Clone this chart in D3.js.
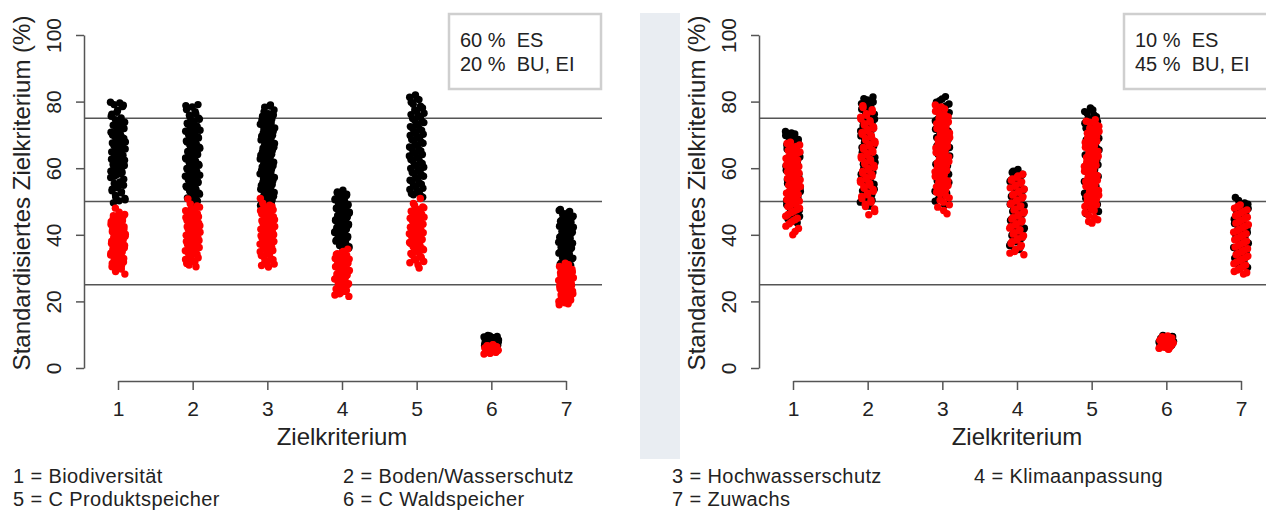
<!DOCTYPE html>
<html>
<head>
<meta charset="utf-8">
<script src="https://cdn.jsdelivr.net/npm/d3@7"></script>
<style>
    body { margin: 0; background: white; }
    text { font-family: "Liberation Sans", Arial, sans-serif; fill: #222; }
</style>
</head>
<body>
<script>
// Data
var criteria = [1, 2, 3, 4, 5, 6, 7];
var yTicks = [0, 20, 40, 60, 80, 100];
var refLines = [25, 50, 75];
var legendLeft = ["60 %  ES", "20 %  BU, EI"];
var legendRight = ["10 %  ES", "45 %  BU, EI"];
var criteriaNames = [
    "1 = Biodiversität", "2 = Boden/Wasserschutz", "3 = Hochwasserschutz", "4 = Klimaanpassung",
    "5 = C Produktspeicher", "6 = C Waldspeicher", "7 = Zuwachs"
];

// left panel, black (criterion 1..7)
var leftBlack = [
    [79.8, 79.6, 79.1, 78.9, 77.4, 76.2, 75.1, 74.6, 73.8, 73.3, 72.9, 72.4, 71.6, 70.8, 70.3, 69.7, 68.9, 68.2, 67.6, 67.1, 66.4, 65.8, 65.2, 64.6, 63.9, 63.3, 62.7, 62.0, 61.4, 60.8, 60.1, 59.4, 58.7, 58.0, 57.2, 55.9, 55.4, 54.9, 54.1, 53.2, 52.6, 51.8, 50.9, 50.2, 49.6,
     78.5, 76.8, 75.6, 74.2, 73.0, 71.9, 71.2, 70.0, 69.3, 68.6, 67.9, 67.3, 66.8, 66.1, 65.5, 64.9, 64.2, 63.6, 62.4, 61.7, 61.1, 60.4, 59.7, 59.1, 58.3, 57.6, 56.7, 54.5, 53.7, 52.9, 51.3, 50.5],
    [79.1, 78.4, 77.6, 76.3, 75.4, 74.7, 73.9, 73.2, 72.5, 71.8, 71.1, 70.4, 69.8, 69.1, 68.5, 67.9, 67.2, 66.6, 66.0, 65.3, 64.7, 64.1, 63.4, 62.8, 62.1, 61.5, 60.9, 60.2, 59.6, 58.9, 58.3, 57.6, 57.0, 56.3, 55.7, 55.0, 54.3, 53.6, 52.9, 52.2, 51.5, 50.8, 50.1, 49.4,
     78.8, 77.0, 75.9, 75.0, 74.3, 73.5, 72.8, 72.1, 71.4, 70.7, 70.1, 69.4, 68.8, 68.2, 67.5, 66.9, 66.3, 65.6, 65.0, 64.4, 63.7, 63.1, 62.4, 61.8, 61.2, 60.5, 59.9, 59.2, 58.6, 57.9, 57.3, 56.6, 56.0, 55.3, 54.6, 53.9, 53.2, 52.5, 51.8, 51.1, 50.4, 49.8],
    [79.0, 78.3, 77.5, 76.4, 75.6, 74.8, 74.0, 73.2, 72.5, 71.8, 71.0, 70.3, 69.6, 68.9, 68.1, 67.4, 66.7, 66.0, 65.3, 64.6, 63.9, 63.2, 62.5, 61.8, 61.1, 60.4, 59.7, 59.0, 58.3, 57.6, 56.9, 56.2, 55.5, 54.8, 54.1, 53.4, 52.7, 52.0, 51.2, 50.4, 49.6, 48.8,
     78.7, 77.0, 76.0, 75.2, 74.4, 73.6, 72.8, 72.1, 71.4, 70.6, 69.9, 69.2, 68.5, 67.7, 67.0, 66.3, 65.6, 64.9, 64.2, 63.5, 62.8, 62.1, 61.4, 60.7, 60.0, 59.3, 58.6, 57.9, 57.2, 56.5, 55.8, 55.1, 54.4, 53.7, 53.0, 52.3, 51.6, 50.8, 50.0, 49.2],
    [53.4, 52.6, 51.8, 51.1, 50.5, 49.9, 49.4, 48.9, 48.4, 47.9, 47.4, 47.0, 46.5, 46.1, 45.6, 45.2, 44.7, 44.3, 43.8, 43.4, 42.9, 42.5, 42.0, 41.6, 41.1, 40.7, 40.2, 39.7, 39.2, 38.7, 38.1, 37.5, 36.8, 36.0, 35.3,
     52.9, 52.2, 51.5, 50.8, 50.2, 49.6, 49.1, 48.6, 48.1, 47.7, 47.2, 46.8, 46.3, 45.9, 45.4, 45.0, 44.5, 44.1, 43.6, 43.2, 42.7, 42.3, 41.8, 41.4, 40.9, 40.5, 40.0, 39.5, 38.9, 38.4, 37.8, 37.2, 36.4, 35.7],
    [82.0, 81.3, 80.6, 79.2, 78.1, 77.0, 76.1, 75.3, 74.5, 73.7, 72.9, 72.1, 71.3, 70.6, 69.8, 69.0, 68.3, 67.5, 66.8, 66.0, 65.2, 64.5, 63.7, 63.0, 62.2, 61.4, 60.7, 59.9, 59.1, 58.4, 57.6, 56.8, 56.0, 55.2, 54.4, 53.6, 52.8, 52.0, 51.3,
     80.9, 79.8, 78.6, 77.5, 76.5, 75.7, 74.9, 74.1, 73.3, 72.5, 71.7, 70.9, 70.2, 69.4, 68.6, 67.9, 67.1, 66.4, 65.6, 64.8, 64.1, 63.3, 62.6, 61.8, 61.0, 60.3, 59.5, 58.7, 58.0, 57.2, 56.4, 55.6, 54.8, 54.0, 53.2, 52.4, 51.7],
    [9.8, 9.5, 9.2, 9.0, 8.8, 8.6, 8.4, 8.2, 8.0, 7.8, 7.6, 7.4, 7.2, 7.0, 6.8, 6.6, 6.4, 6.2,
     9.6, 9.3, 9.1, 8.9, 8.7, 8.5, 8.3, 8.1, 7.9, 7.7, 7.5, 7.3, 7.1, 6.9, 6.7, 6.5, 6.3],
    [47.6, 47.0, 46.3, 45.6, 45.0, 44.4, 43.8, 43.2, 42.6, 42.0, 41.4, 40.8, 40.2, 39.6, 39.0, 38.4, 37.8, 37.2, 36.6, 36.0, 35.4, 34.8, 34.2, 33.6, 33.0, 32.3, 31.6, 30.8, 30.1,
     47.3, 46.6, 46.0, 45.3, 44.7, 44.1, 43.5, 42.9, 42.3, 41.7, 41.1, 40.5, 39.9, 39.3, 38.7, 38.1, 37.5, 36.9, 36.3, 35.7, 35.1, 34.5, 33.9, 33.3, 32.7, 31.9, 31.2, 30.5]
];

// left panel, red
var leftRed = [
    [48.0, 46.1, 45.4, 44.8, 44.2, 43.7, 43.1, 42.6, 42.2, 41.7, 41.3, 40.9, 40.4, 40.0, 39.6, 39.1, 38.8, 38.3, 37.9, 37.4, 37.0, 36.6, 36.1, 35.7, 35.2, 34.8, 34.3, 33.9, 33.2, 32.6, 31.8, 31.1, 30.4, 29.7, 29.0, 28.2,
     46.8, 45.7, 45.1, 44.5, 43.9, 43.4, 42.9, 42.4, 41.9, 41.5, 41.1, 40.6, 40.2, 39.8, 39.4, 38.9, 38.5, 38.1, 37.6, 37.2, 36.8, 36.3, 35.9, 35.5, 35.0, 34.5, 34.0, 33.5, 32.9, 32.2, 31.4, 30.8, 29.4],
    [50.8, 48.7, 47.9, 47.2, 46.6, 46.0, 45.4, 44.9, 44.3, 43.8, 43.2, 42.7, 42.1, 41.6, 41.0, 40.5, 39.9, 39.4, 38.8, 38.3, 37.7, 37.1, 36.5, 35.9, 35.2, 34.6, 33.9, 33.1, 32.2, 31.4, 30.4,
     49.3, 48.3, 47.6, 46.9, 46.3, 45.7, 45.2, 44.6, 44.1, 43.5, 43.0, 42.4, 41.9, 41.3, 40.8, 40.2, 39.7, 39.1, 38.6, 38.0, 37.4, 36.8, 36.2, 35.6, 34.9, 34.2, 33.5, 32.6, 31.8, 30.9],
    [50.9, 48.9, 48.2, 47.5, 46.9, 46.3, 45.7, 45.1, 44.5, 43.9, 43.4, 42.8, 42.2, 41.7, 41.1, 40.6, 40.0, 39.4, 38.9, 38.3, 37.7, 37.2, 36.6, 36.0, 35.3, 34.6, 33.8, 32.9, 32.0, 31.2, 30.3,
     49.5, 48.5, 47.8, 47.2, 46.6, 46.0, 45.4, 44.8, 44.2, 43.6, 43.1, 42.5, 41.9, 41.4, 40.8, 40.3, 39.7, 39.1, 38.6, 38.0, 37.4, 36.9, 36.3, 35.6, 34.9, 34.2, 33.4, 32.5, 31.6, 30.8],
    [35.7, 34.6, 34.1, 33.6, 33.1, 32.7, 32.2, 31.8, 31.3, 30.9, 30.4, 30.0, 29.5, 29.1, 28.6, 28.2, 27.7, 27.2, 26.7, 26.2, 25.6, 25.0, 24.4, 23.7, 23.0, 22.3, 21.5,
     35.0, 34.3, 33.8, 33.3, 32.9, 32.4, 32.0, 31.5, 31.1, 30.6, 30.2, 29.7, 29.3, 28.8, 28.4, 27.9, 27.4, 26.9, 26.4, 25.9, 25.3, 24.7, 24.0, 23.3, 22.6, 21.9],
    [50.9, 48.8, 48.1, 47.4, 46.8, 46.2, 45.6, 45.0, 44.4, 43.8, 43.2, 42.6, 42.0, 41.5, 40.9, 40.3, 39.7, 39.2, 38.6, 38.0, 37.4, 36.8, 36.2, 35.5, 34.8, 34.0, 33.2, 32.4, 31.6, 30.0,
     49.4, 48.4, 47.7, 47.1, 46.5, 45.9, 45.3, 44.7, 44.1, 43.5, 42.9, 42.3, 41.7, 41.2, 40.6, 40.0, 39.4, 38.9, 38.3, 37.7, 37.1, 36.5, 35.8, 35.1, 34.4, 33.6, 32.8, 32.0, 31.0],
    [7.0, 6.7, 6.4, 6.2, 6.0, 5.8, 5.6, 5.4, 5.2, 5.0, 4.8, 4.5, 4.2,
     6.9, 6.6, 6.3, 6.1, 5.9, 5.7, 5.5, 5.3, 5.1, 4.9, 4.7, 4.4],
    [31.5, 30.5, 29.9, 29.3, 28.8, 28.3, 27.8, 27.3, 26.8, 26.3, 25.8, 25.3, 24.8, 24.3, 23.8, 23.3, 22.8, 22.3, 21.7, 21.1, 20.4, 19.6, 19.0,
     31.0, 30.2, 29.6, 29.1, 28.6, 28.1, 27.6, 27.1, 26.6, 26.1, 25.6, 25.1, 24.6, 24.1, 23.6, 23.1, 22.6, 22.0, 21.4, 20.8, 20.0, 19.3]
];

// right panel, black
var rightBlack = [
    [71.0, 70.3, 69.4, 68.6, 67.8, 67.0, 66.2, 65.4, 64.6, 63.8, 63.0, 62.2, 61.4, 60.6, 59.8, 59.0, 58.2, 57.4, 56.6, 55.8, 55.0, 54.2, 53.4, 52.6, 51.8, 51.0, 50.2, 49.4, 48.6, 47.4, 46.2, 44.8, 43.6,
     70.6, 69.8, 69.0, 68.2, 67.4, 66.6, 65.8, 65.0, 64.2, 63.4, 62.6, 61.8, 61.0, 60.2, 59.4, 58.6, 57.8, 57.0, 56.2, 55.4, 54.6, 53.8, 53.0, 52.2, 51.4, 50.6, 49.8, 49.0, 48.0, 46.8, 45.5, 44.2],
    [81.4, 80.5, 79.4, 78.3, 77.2, 76.2, 75.2, 74.2, 73.2, 72.2, 71.2, 70.2, 69.2, 68.2, 67.2, 66.2, 65.2, 64.2, 63.2, 62.2, 61.2, 60.2, 59.2, 58.2, 57.2, 56.2, 55.2, 54.2, 53.2, 52.1, 51.0, 49.8, 48.6,
     80.9, 79.9, 78.8, 77.7, 76.7, 75.7, 74.7, 73.7, 72.7, 71.7, 70.7, 69.7, 68.7, 67.7, 66.7, 65.7, 64.7, 63.7, 62.7, 61.7, 60.7, 59.7, 58.7, 57.7, 56.7, 55.7, 54.7, 53.7, 52.6, 51.5, 50.4, 49.2],
    [81.5, 80.3, 79.3, 78.2, 77.2, 76.2, 75.2, 74.2, 73.2, 72.2, 71.2, 70.2, 69.2, 68.2, 67.2, 66.2, 65.2, 64.2, 63.2, 62.2, 61.2, 60.2, 59.2, 58.2, 57.2, 56.2, 55.2, 54.2, 53.1, 52.0, 50.8, 49.4,
     80.8, 79.8, 78.7, 77.7, 76.7, 75.7, 74.7, 73.7, 72.7, 71.7, 70.7, 69.7, 68.7, 67.7, 66.7, 65.7, 64.7, 63.7, 62.7, 61.7, 60.7, 59.7, 58.7, 57.7, 56.7, 55.7, 54.7, 53.6, 52.5, 51.4, 50.1, 49.0],
    [59.6, 58.7, 57.8, 56.9, 56.0, 55.1, 54.2, 53.3, 52.4, 51.5, 50.6, 49.7, 48.8, 47.9, 47.0, 46.1, 45.2, 44.3, 43.4, 42.5, 41.6, 40.7, 39.8, 38.9, 37.9, 36.8, 35.6,
     59.1, 58.2, 57.3, 56.4, 55.5, 54.6, 53.7, 52.8, 51.9, 51.0, 50.1, 49.2, 48.3, 47.4, 46.5, 45.6, 44.7, 43.8, 42.9, 42.0, 41.1, 40.2, 39.3, 38.4, 37.3, 36.2, 35.3],
    [78.1, 77.0, 76.0, 75.0, 74.0, 73.0, 72.0, 71.0, 70.0, 69.0, 68.0, 67.0, 66.0, 65.0, 64.0, 63.0, 62.0, 61.0, 60.0, 59.0, 58.0, 57.0, 56.0, 55.0, 54.0, 53.0, 52.0, 51.0, 49.8, 48.4, 47.0,
     77.5, 76.5, 75.5, 74.5, 73.5, 72.5, 71.5, 70.5, 69.5, 68.5, 67.5, 66.5, 65.5, 64.5, 63.5, 62.5, 61.5, 60.5, 59.5, 58.5, 57.5, 56.5, 55.5, 54.5, 53.5, 52.5, 51.5, 50.4, 49.1, 47.7, 46.4],
    [9.8, 9.5, 9.2, 8.9, 8.6, 8.3, 8.0, 7.7, 7.4, 7.1, 6.8, 6.5, 6.2,
     9.6, 9.4, 9.0, 8.7, 8.4, 8.1, 7.8, 7.5, 7.2, 6.9, 6.6, 6.3],
    [51.2, 49.6, 48.8, 47.9, 47.0, 46.1, 45.2, 44.3, 43.4, 42.5, 41.6, 40.7, 39.8, 38.9, 38.0, 37.1, 36.2, 35.3, 34.4, 33.5, 32.6, 31.6, 30.6,
     50.3, 49.2, 48.3, 47.4, 46.5, 45.6, 44.7, 43.8, 42.9, 42.0, 41.1, 40.2, 39.3, 38.4, 37.5, 36.6, 35.7, 34.8, 33.9, 33.0, 32.1, 31.1, 30.2]
];

// right panel, red
var rightRed = [
    [67.8, 67.0, 66.1, 65.3, 64.5, 63.7, 62.9, 62.1, 61.3, 60.5, 59.7, 58.9, 58.1, 57.3, 56.5, 55.7, 54.9, 54.1, 53.3, 52.5, 51.7, 50.9, 50.1, 49.3, 48.5, 47.6, 46.7, 45.6, 44.5, 43.3, 41.9, 40.0,
     67.4, 66.5, 65.7, 64.9, 64.1, 63.3, 62.5, 61.7, 60.9, 60.1, 59.3, 58.5, 57.7, 56.9, 56.1, 55.3, 54.5, 53.7, 52.9, 52.1, 51.3, 50.5, 49.7, 48.9, 48.0, 47.1, 46.1, 45.0, 43.9, 42.6, 41.0],
    [78.8, 77.6, 76.4, 75.3, 74.3, 73.4, 72.5, 71.6, 70.7, 69.8, 68.9, 68.0, 67.1, 66.2, 65.3, 64.4, 63.5, 62.6, 61.7, 60.8, 59.9, 59.0, 58.1, 57.2, 56.3, 55.4, 54.5, 53.6, 52.6, 51.5, 50.4, 49.2, 47.8, 46.0,
     78.2, 77.0, 75.9, 74.8, 73.8, 72.9, 72.0, 71.1, 70.2, 69.3, 68.4, 67.5, 66.6, 65.7, 64.8, 63.9, 63.0, 62.1, 61.2, 60.3, 59.4, 58.5, 57.6, 56.7, 55.8, 54.9, 54.0, 53.1, 52.0, 50.9, 49.8, 48.5, 47.0],
    [79.0, 77.8, 76.5, 75.4, 74.4, 73.4, 72.4, 71.5, 70.6, 69.7, 68.8, 67.9, 67.0, 66.1, 65.2, 64.3, 63.4, 62.5, 61.6, 60.7, 59.8, 58.9, 58.0, 57.1, 56.2, 55.3, 54.4, 53.4, 52.3, 51.1, 49.8, 48.3, 46.3,
     78.4, 77.1, 75.9, 74.9, 73.9, 72.9, 71.9, 71.0, 70.1, 69.2, 68.3, 67.4, 66.5, 65.6, 64.7, 63.8, 62.9, 62.0, 61.1, 60.2, 59.3, 58.4, 57.5, 56.6, 55.7, 54.8, 53.9, 52.8, 51.7, 50.4, 49.0, 47.3],
    [58.2, 57.3, 56.4, 55.5, 54.6, 53.7, 52.8, 51.9, 51.0, 50.1, 49.2, 48.3, 47.4, 46.5, 45.6, 44.7, 43.8, 42.9, 42.0, 41.1, 40.2, 39.3, 38.4, 37.4, 36.3, 35.0, 34.0,
     57.7, 56.8, 55.9, 55.0, 54.1, 53.2, 52.3, 51.4, 50.5, 49.6, 48.7, 47.8, 46.9, 46.0, 45.1, 44.2, 43.3, 42.4, 41.5, 40.6, 39.7, 38.8, 37.9, 36.8, 35.6, 34.5],
    [74.6, 73.8, 72.6, 71.5, 70.5, 69.5, 68.6, 67.7, 66.8, 65.9, 65.0, 64.1, 63.2, 62.3, 61.4, 60.5, 59.6, 58.7, 57.8, 56.9, 56.0, 55.1, 54.2, 53.3, 52.4, 51.5, 50.6, 49.6, 48.5, 47.3, 45.9, 44.5, 43.5,
     74.1, 73.2, 72.0, 71.0, 70.0, 69.0, 68.1, 67.2, 66.3, 65.4, 64.5, 63.6, 62.7, 61.8, 60.9, 60.0, 59.1, 58.2, 57.3, 56.4, 55.5, 54.6, 53.7, 52.8, 51.9, 51.0, 50.1, 49.0, 47.9, 46.6, 45.2, 44.0],
    [9.6, 9.2, 8.9, 8.6, 8.3, 8.0, 7.7, 7.4, 7.1, 6.8, 6.5, 6.2, 5.9, 5.6,
     9.4, 9.0, 8.7, 8.4, 8.1, 7.8, 7.5, 7.2, 6.9, 6.6, 6.3, 6.0, 5.7],
    [49.0, 48.0, 47.1, 46.2, 45.3, 44.4, 43.5, 42.6, 41.7, 40.8, 39.9, 39.0, 38.1, 37.2, 36.3, 35.4, 34.5, 33.6, 32.7, 31.8, 30.9, 29.9, 29.0, 28.2,
     48.5, 47.5, 46.6, 45.7, 44.8, 43.9, 43.0, 42.1, 41.2, 40.3, 39.4, 38.5, 37.6, 36.7, 35.8, 34.9, 34.0, 33.1, 32.2, 31.3, 30.4, 29.4, 28.6]
];


// Layout
var Panel = {
    axisX: 84,
    plotRight: 602,
    top: 35,
    bottom: 368,
    xAxisY: 381,
    firstCat: 118,
    lastCat: 566,
    jitter: 15,
    dotRadius: 3.7,
};

var svg = d3.select("body")
    .append("svg")
    .attr("width", 1266)
    .attr("height", 511);

var y = d3.scaleLinear().domain([0, 100]).range([Panel.bottom, Panel.top]);
var x = d3.scaleLinear().domain([1, 7]).range([Panel.firstCat, Panel.lastCat]);

// spreads points side to side like R's jitter(), but without randomness
function jitterOffset(i) {
    return ((i * 0.618034) % 1 - 0.5) * Panel.jitter;
}

function toPoints(groups, seed) {
    var pts = [];
    groups.forEach(function(vals, k) {
        vals.forEach(function(v, i) {
            pts.push({ cat: criteria[k], value: v, dx: jitterOffset(i + k * 3 + seed) });
        });
    });
    return pts;
}


function drawPanel(offset, black, red, legend) {
    var g = svg.append("g").attr("transform", "translate(" + offset + ",0)");

    // reference lines
    g.selectAll(".ref")
        .data(refLines)
        .enter()
        .append("line")
        .attr("x1", Panel.axisX)
        .attr("x2", Panel.plotRight)
        .attr("y1", function(d) { return y(d); })
        .attr("y2", function(d) { return y(d); })
        .attr("stroke", "#555")
        .attr("stroke-width", 1.5);

    // y axis
    var yAxis = g.append("g")
        .attr("transform", "translate(" + Panel.axisX + ",0)")
        .call(d3.axisLeft(y).tickValues(yTicks).tickSize(8).tickPadding(0).tickSizeOuter(0));
    yAxis.select(".domain").attr("stroke", "#555").attr("stroke-width", 1.5);
    yAxis.selectAll(".tick line").attr("stroke", "#555").attr("stroke-width", 1.5);
    yAxis.selectAll(".tick text")
        .attr("x", 0).attr("dy", 0)
        .attr("transform", "translate(-23,0) rotate(-90)")
        .attr("text-anchor", "middle")
        .style("font-size", "21px")
        .attr("fill", "#222");

    // x axis
    var xAxis = g.append("g")
        .attr("transform", "translate(0," + Panel.xAxisY + ")")
        .call(d3.axisBottom(x).tickValues(criteria).tickSize(9).tickPadding(0).tickSizeOuter(0).tickFormat(d3.format("d")));
    xAxis.select(".domain").attr("stroke", "#555").attr("stroke-width", 1.5);
    xAxis.selectAll(".tick line").attr("stroke", "#555").attr("stroke-width", 1.5);
    xAxis.selectAll(".tick text")
        .attr("y", 35).attr("dy", 0)
        .style("font-size", "21px")
        .attr("fill", "#222");

    // axis titles
    g.append("text")
        .attr("transform", "translate(30,193) rotate(-90)")
        .attr("text-anchor", "middle")
        .style("font-size", "24px")
        .text("Standardisiertes Zielkriterium (%)");
    g.append("text")
        .attr("x", (Panel.firstCat + Panel.lastCat) / 2)
        .attr("y", 445)
        .attr("text-anchor", "middle")
        .style("font-size", "24px")
        .text("Zielkriterium");

    // points: black first, red on top
    [[black, "#000", 0], [red, "#ff0000", 7]].forEach(function(s) {
        g.append("g")
            .selectAll("circle")
            .data(toPoints(s[0], s[2]))
            .enter()
            .append("circle")
            .attr("cx", function(d) { return x(d.cat) + d.dx; })
            .attr("cy", function(d) { return y(d.value); })
            .attr("r", Panel.dotRadius)
            .attr("fill", s[1]);
    });

    // legend box
    g.append("rect")
        .attr("x", 449).attr("y", 14)
        .attr("width", 152).attr("height", 75)
        .attr("fill", "white")
        .attr("stroke", "#cfcfcf")
        .attr("stroke-width", 2.5);
    g.selectAll(".leg")
        .data(legend)
        .enter()
        .append("text")
        .attr("x", 460)
        .attr("y", function(d, i) { return 47 + i * 24; })
        .style("font-size", "20px")
        .style("white-space", "pre")
        .text(function(d) { return d; });
}


drawPanel(0, leftBlack, leftRed, legendLeft);
drawPanel(675, rightBlack, rightRed, legendRight);

// grey separator strip
svg.append("rect")
    .attr("x", 640).attr("y", 13)
    .attr("width", 40).attr("height", 446)
    .attr("fill", "#e9edf2");

// criterion names below the panels
var colX = [13, 343, 672, 974];
svg.selectAll(".name")
    .data(criteriaNames)
    .enter()
    .append("text")
    .attr("x", function(d, i) { return colX[i % 4]; })
    .attr("y", function(d, i) { return i < 4 ? 483 : 506; })
    .style("font-size", "20px")
    .style("letter-spacing", "0.4px")
    .text(function(d) { return d; });
</script>
</body>
</html>
